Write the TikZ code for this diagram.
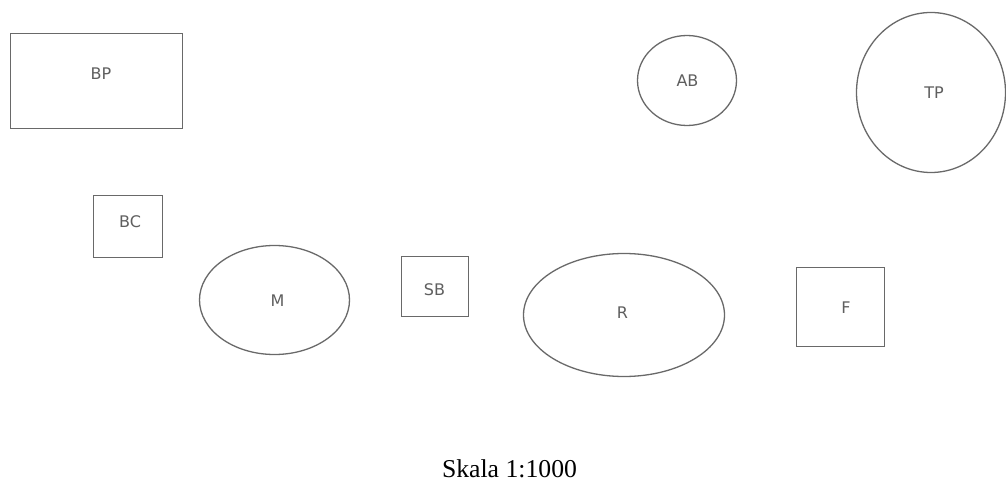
\documentclass[tikz,border=0pt]{standalone}
\usepackage{fontspec}
\setmainfont{Liberation Serif}
\newfontfamily\lblfont{DejaVu Sans}
\usetikzlibrary{shapes.geometric}
\definecolor{linegray}{RGB}{105,105,105}
\definecolor{txtgray}{RGB}{95,95,95}
\tikzset{
  shapeline/.style={draw=linegray, line width=1.3pt, inner sep=0pt, outer sep=0pt},
  boxshape/.style={shapeline, rectangle, minimum width=#1},
  ovalshape/.style={shapeline, ellipse},
  lbl/.style={font=\lblfont\fontsize{16}{18}\selectfont, text=txtgray, inner sep=0pt},
}
\begin{document}
\begin{tikzpicture}[x=1pt, y=-1pt]
\useasboundingbox[fill=white] (0,0) rectangle (1006,481);
% shapes
\node[shapeline, rectangle, minimum width=172pt, minimum height=95pt] (bp) at (96.5,81) {};
\node[ovalshape, minimum width=99pt, minimum height=90pt] (ab) at (687,80.5) {};
\node[ovalshape, minimum width=149pt, minimum height=160pt] (tp) at (931,92.5) {};
\node[shapeline, rectangle, minimum width=69pt, minimum height=62pt] (bc) at (128,226.5) {};
\node[ovalshape, minimum width=150pt, minimum height=109pt] (m) at (274.5,300) {};
\node[shapeline, rectangle, minimum width=67pt, minimum height=60pt] (sb) at (435,286.5) {};
\node[ovalshape, minimum width=201pt, minimum height=123pt] (r) at (624,315) {};
\node[shapeline, rectangle, minimum width=88pt, minimum height=79pt] (f) at (840.5,307) {};
% labels
\node[lbl] (bpl) at (101,74) {BP};
\node[lbl] (abl) at (687.5,80.5) {AB};
\node[lbl] (tpl) at (934,92.5) {TP};
\node[lbl] (bcl) at (130,222) {BC};
\node[lbl] (ml) at (277.5,300.5) {M};
\node[lbl] (sbl) at (434.5,290) {SB};
\node[lbl] (rl) at (622.5,312.5) {R};
\node[lbl] (fl) at (846,307.5) {F};
% caption
\node[anchor=base, inner sep=0pt, font=\fontsize{25.7}{30}\selectfont] (cap) at (509.5,477) {Skala 1:1000};
\end{tikzpicture}
\end{document}
